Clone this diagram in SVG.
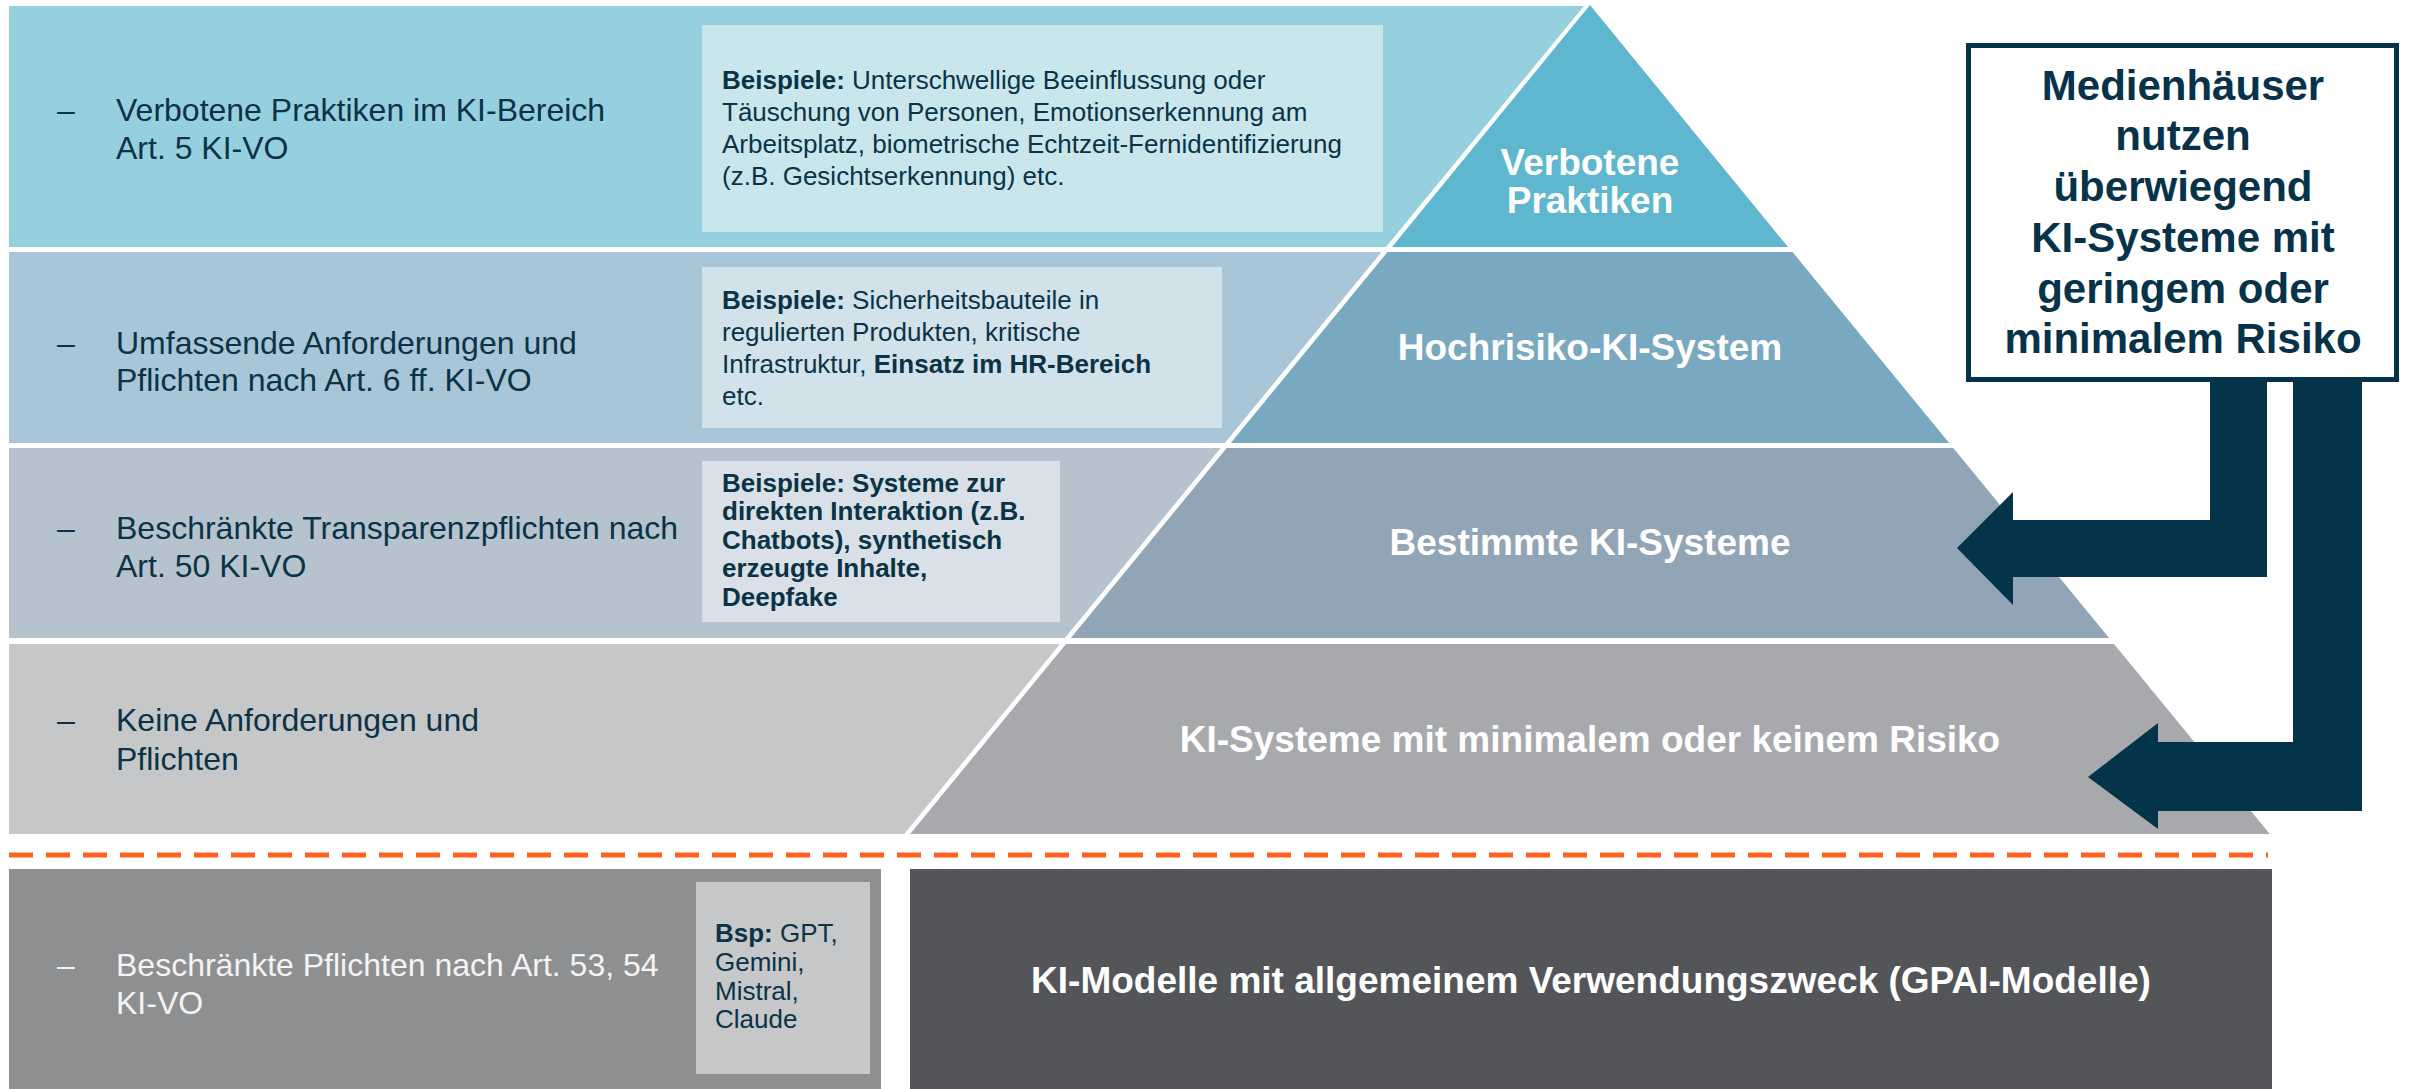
<svg xmlns="http://www.w3.org/2000/svg" width="2409" height="1089" viewBox="0 0 2409 1089">
<style>
text{font-family:"Liberation Sans",Arial,Helvetica,sans-serif}
.lt{font-size:32px;fill:#0B3346}
.lw{font-size:32px;fill:#F4F4F4}
.bx{font-size:26px;fill:#0B3346}
.b{font-weight:bold}
.pl{font-size:37px;font-weight:bold;fill:#FFFFFF;text-anchor:middle}
.mh{font-size:42px;font-weight:bold;fill:#06324A;text-anchor:middle}
.arrow{fill:#03344A}
</style>
<rect width="2409" height="1089" fill="#FFFFFF"/>

<g id="band-verboten">
<polygon points="9,6 1584,6 1386,247 9,247" fill="#96D0DF"/>
<polygon points="1590,5 1788,247 1392,247" fill="#5EB7CE"/>
<rect x="702" y="25" width="681" height="207" fill="#C9E6EC"/>
<text class="lt" x="57" y="121">–</text>
<text class="lt" x="116" y="121">Verbotene Praktiken im KI-Bereich</text>
<text class="lt" x="116" y="159">Art. 5 KI-VO</text>
<text class="bx" x="722" y="89"><tspan class="b">Beispiele:</tspan> Unterschwellige Beeinflussung oder</text>
<text class="bx" x="722" y="121">Täuschung von Personen, Emotionserkennung am</text>
<text class="bx" x="722" y="153">Arbeitsplatz, biometrische Echtzeit-Fernidentifizierung</text>
<text class="bx" x="722" y="185">(z.B. Gesichtserkennung) etc.</text>
<text class="pl" x="1590" y="175">Verbotene</text>
<text class="pl" x="1590" y="213">Praktiken</text>
</g>

<g id="band-hochrisiko">
<polygon points="9,252 1381.5,252 1224.8,443 9,443" fill="#A8C6D7"/>
<polygon points="1387.5,252 1792.5,252 1949.2,443 1230.8,443" fill="#79A9C1"/>
<rect x="702" y="267" width="520" height="161" fill="#D2E2EA"/>
<text class="lt" x="57" y="354">–</text>
<text class="lt" x="116" y="354">Umfassende Anforderungen und</text>
<text class="lt" x="116" y="391">Pflichten nach Art. 6 ff. KI-VO</text>
<text class="bx" x="722" y="309"><tspan class="b">Beispiele:</tspan> Sicherheitsbauteile in</text>
<text class="bx" x="722" y="341">regulierten Produkten, kritische</text>
<text class="bx" x="722" y="373">Infrastruktur, <tspan class="b">Einsatz im HR-Bereich</tspan></text>
<text class="bx" x="722" y="405">etc.</text>
<text class="pl" x="1590" y="360">Hochrisiko-KI-System</text>
</g>

<g id="band-bestimmte">
<polygon points="9,448 1220.7,448 1064.9,638 9,638" fill="#B6C3CF"/>
<polygon points="1226.7,448 1953.3,448 2109.1,638 1070.9,638" fill="#92A5B6"/>
<rect x="702" y="461" width="358" height="161" fill="#D9E0E7"/>
<text class="lt" x="57" y="539">–</text>
<text class="lt" x="116" y="539">Beschränkte Transparenzpflichten nach</text>
<text class="lt" x="116" y="577">Art. 50 KI-VO</text>
<text class="bx b" x="722" y="492">Beispiele: Systeme zur</text>
<text class="bx b" x="722" y="520">direkten Interaktion (z.B.</text>
<text class="bx b" x="722" y="549">Chatbots), synthetisch</text>
<text class="bx b" x="722" y="577">erzeugte Inhalte,</text>
<text class="bx b" x="722" y="606">Deepfake</text>
<text class="pl" x="1590" y="555">Bestimmte KI-Systeme</text>
</g>

<g id="band-minimal">
<polygon points="9,644 1060,644 904.2,834 9,834" fill="#C6C7C9"/>
<polygon points="1066,644 2114,644 2269.8,834 910.2,834" fill="#A8A9AC"/>
<text class="lt" x="57" y="731">–</text>
<text class="lt" x="116" y="731">Keine Anforderungen und</text>
<text class="lt" x="116" y="770">Pflichten</text>
<text class="pl" x="1590" y="752">KI-Systeme mit minimalem oder keinem Risiko</text>
</g>

<g id="separator">
<line x1="9" y1="855" x2="2268" y2="855" stroke="#FF6220" stroke-width="5" stroke-dasharray="24 13"/>
</g>

<g id="gpai-pflichten">
<rect x="9" y="869" width="872" height="220" fill="#8E8F91"/>
<rect x="696" y="882" width="174" height="192" fill="#C6C7C9"/>
<text class="lw" x="57" y="976">–</text>
<text class="lw" x="116" y="976">Beschränkte Pflichten nach Art. 53, 54</text>
<text class="lw" x="116" y="1014">KI-VO</text>
<text class="bx" x="715" y="942"><tspan class="b">Bsp:</tspan> GPT,</text>
<text class="bx" x="715" y="971">Gemini,</text>
<text class="bx" x="715" y="1000">Mistral,</text>
<text class="bx" x="715" y="1028">Claude</text>
</g>

<g id="gpai-modelle">
<rect x="910" y="869" width="1362" height="220" fill="#545559"/>
<text class="pl" x="1591" y="993">KI-Modelle mit allgemeinem Verwendungszweck (GPAI-Modelle)</text>
</g>

<g id="medienhaeuser">
<rect x="1968.5" y="45.5" width="428" height="334" fill="#FFFFFF" stroke="#06324A" stroke-width="5"/>
<text class="mh" x="2183" y="100">Medienhäuser</text>
<text class="mh" x="2183" y="150">nutzen</text>
<text class="mh" x="2183" y="201">überwiegend</text>
<text class="mh" x="2183" y="252">KI-Systeme mit</text>
<text class="mh" x="2183" y="303">geringem oder</text>
<text class="mh" x="2183" y="353">minimalem Risiko</text>
</g>

<g id="connectors">
<polygon class="arrow" points="2210,382 2267,382 2267,577 2013,577 2013,605 1957,548 2013,492 2013,520 2210,520"/>
<polygon class="arrow" points="2293,382 2362,382 2362,811 2158,811 2158,829 2088,777 2158,723 2158,742 2293,742"/>
</g>
</svg>
